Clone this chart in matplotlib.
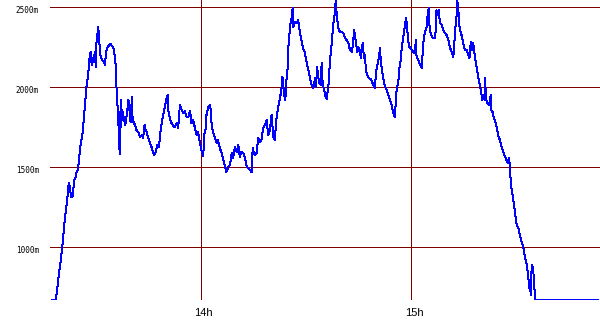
import matplotlib
matplotlib.use('Agg')
import matplotlib.pyplot as plt
import matplotlib.transforms as mtransforms

# Altitude track, time in minutes after 13:00, altitude in metres
minutes = [
    17.4, 18.6, 18.9, 19.2, 19.5, 19.9, 20.3, 20.6, 20.9, 21.1, 21.4, 21.8,
    22.1, 22.3, 22.6, 22.9, 23.3, 23.5, 23.8, 24.3, 24.5, 24.9, 25.2, 25.7,
    26.2, 26.7, 27.1, 27.3, 27.8, 28.1, 28.5, 28.8, 29.1, 29.4, 29.7, 30.0,
    30.2, 30.5, 30.7, 30.9, 31.3, 31.8, 32.3, 32.6, 32.9, 33.2, 33.6, 34.2,
    34.8, 35.2, 35.7, 35.9, 36.3, 36.6, 36.8, 37.1, 37.2, 37.5, 37.8, 38.1,
    38.4, 38.9, 39.3, 39.6, 39.9, 40.3, 40.5, 40.9, 41.2, 41.6, 42.1, 42.6,
    43.1, 43.5, 43.9, 44.2, 44.5, 44.9, 45.4, 45.9, 46.6, 47.1, 47.5, 48.0,
    48.6, 49.1, 49.7, 50.2, 50.5, 50.7, 51.1, 51.6, 52.1, 52.6, 53.1, 53.5,
    54.0, 54.5, 54.9, 55.4, 55.9, 56.4, 56.9, 57.3, 57.8, 58.3, 58.8, 59.2,
    59.7, 60.2, 60.7, 60.9, 61.4, 61.6, 62.1, 62.6, 62.9, 63.1, 63.5, 64.0,
    64.5, 64.9, 65.4, 65.9, 66.4, 66.9, 67.3, 67.8, 68.3, 68.8, 69.2, 69.7,
    70.2, 70.7, 71.1, 71.6, 72.1, 72.6, 73.1, 73.5, 74.0, 74.5, 74.8, 75.1,
    75.4, 75.9, 76.4, 76.9, 77.3, 77.8, 78.3, 78.8, 79.2, 79.7, 80.2, 80.7,
    81.1, 81.6, 82.1, 82.6, 83.1, 83.3, 83.7, 84.1, 84.5, 84.8, 84.9, 85.2,
    85.6, 85.9, 86.2, 86.4, 86.7, 87.1, 87.5, 87.8, 88.3, 88.8, 89.2, 89.7,
    90.2, 90.7, 91.1, 91.6, 92.1, 92.6, 92.9, 93.2, 93.7, 94.2, 94.5, 94.8,
    95.1, 95.5, 95.9, 96.4, 96.9, 97.1, 97.4, 97.8, 98.3, 98.5, 98.8, 99.2,
    99.7, 100.2, 100.7, 101.1, 101.6, 102.1, 102.6, 103.1, 103.3, 103.8, 104.3, 104.7,
    104.9, 105.4, 105.7, 106.2, 106.6, 106.9, 107.1, 107.5, 108.0, 108.5, 108.9, 109.4,
    109.7, 110.0, 110.4, 110.7, 110.9, 111.1, 111.4, 111.7, 112.1, 112.6, 113.1, 113.5,
    114.0, 114.5, 114.9, 115.4, 115.7, 115.9, 116.4, 116.7, 117.1, 117.3, 117.6, 118.0,
    118.3, 118.6, 118.9, 119.2, 119.5, 119.9, 120.2, 120.7, 121.1, 121.4, 121.6, 122.1,
    122.6, 123.1, 123.3, 123.5, 124.0, 124.5, 124.8, 125.1, 125.2, 125.6, 126.0, 126.4,
    126.9, 127.1, 127.3, 127.6, 127.9, 128.3, 128.8, 129.2, 129.7, 130.2, 130.7, 131.1,
    131.6, 132.1, 132.4, 132.7, 133.1, 133.2, 133.5, 133.8, 134.2, 134.6, 134.9, 135.4,
    135.9, 136.4, 136.7, 137.1, 137.3, 137.8, 138.3, 138.8, 139.2, 139.7, 140.1, 140.4,
    140.7, 141.1, 141.2, 141.4, 141.8, 142.3, 142.6, 142.8, 142.9, 143.3, 143.7, 144.1,
    144.5, 144.9, 145.4, 145.9, 146.4, 146.9, 147.3, 147.6, 148.0, 148.3, 148.5, 148.8,
    149.2, 149.7, 150.2, 150.7, 151.1, 151.6, 152.1, 152.6, 153.1, 153.5, 153.8, 154.0,
    154.2, 154.5, 154.8, 154.9, 155.2, 155.5, 173.3,
]
altitude = [
    669, 669, 731, 781, 844, 906, 981, 1044, 1119, 1169, 1219, 1294,
    1369, 1400, 1369, 1313, 1313, 1344, 1419, 1438, 1469, 1481, 1550, 1650,
    1713, 1838, 1950, 2000, 2075, 2169, 2219, 2138, 2181, 2156, 2219, 2125,
    2294, 2344, 2375, 2300, 2200, 2169, 2156, 2138, 2213, 2244, 2256, 2269,
    2250, 2231, 2125, 1994, 1838, 1700, 1581, 1919, 1750, 1856, 1825, 1794,
    1763, 1838, 1919, 1856, 1781, 1938, 1794, 1775, 1763, 1731, 1719, 1688,
    1700, 1681, 1763, 1731, 1719, 1688, 1656, 1625, 1575, 1594, 1638, 1625,
    1750, 1813, 1875, 1931, 1950, 1856, 1806, 1775, 1756, 1750, 1775, 1744,
    1888, 1856, 1838, 1850, 1813, 1813, 1850, 1775, 1794, 1744, 1700, 1719,
    1656, 1600, 1570, 1700, 1744, 1825, 1875, 1888, 1838, 1750, 1719, 1681,
    1650, 1669, 1619, 1588, 1544, 1500, 1469, 1500, 1513, 1588, 1556, 1625,
    1594, 1638, 1563, 1594, 1588, 1556, 1500, 1494, 1481, 1469, 1619, 1588,
    1575, 1588, 1681, 1656, 1669, 1744, 1763, 1794, 1700, 1731, 1825, 1688,
    1669, 1806, 1875, 1931, 2000, 2063, 1963, 1919, 2063, 2125, 2219, 2313,
    2400, 2431, 2494, 2375, 2400, 2406, 2400, 2419, 2338, 2281, 2244, 2213,
    2156, 2106, 2063, 2013, 1994, 2056, 2000, 2125, 2031, 2013, 2150, 2013,
    1994, 1950, 1925, 2000, 2169, 2219, 2281, 2388, 2469, 2544, 2450, 2375,
    2344, 2344, 2338, 2313, 2294, 2275, 2231, 2219, 2244, 2356, 2275, 2219,
    2250, 2231, 2181, 2275, 2181, 2200, 2106, 2075, 2056, 2050, 2031, 2006,
    1994, 2088, 2138, 2169, 2181, 2244, 2169, 2106, 2056, 2000, 1981, 1950,
    1919, 1888, 1838, 1813, 1919, 1981, 2031, 2119, 2169, 2231, 2281, 2338,
    2388, 2431, 2375, 2294, 2250, 2244, 2231, 2219, 2213, 2294, 2188, 2169,
    2138, 2119, 2200, 2275, 2344, 2375, 2463, 2494, 2400, 2338, 2313, 2306,
    2306, 2369, 2481, 2450, 2481, 2400, 2388, 2356, 2338, 2325, 2294, 2250,
    2219, 2188, 2275, 2375, 2463, 2544, 2494, 2388, 2344, 2313, 2275, 2231,
    2231, 2200, 2181, 2281, 2231, 2275, 2181, 2119, 2063, 2013, 1963, 1919,
    1950, 1919, 2056, 1931, 1900, 1888, 1919, 1950, 1856, 1844, 1806, 1781,
    1750, 1700, 1669, 1625, 1594, 1563, 1544, 1525, 1556, 1500, 1400, 1356,
    1300, 1219, 1138, 1119, 1075, 1031, 1000, 931, 888, 813, 744, 781,
    700, 888, 875, 869, 763, 669, 669,
]

alt_ticks = [1000, 1500, 2000, 2500]
alt_labels = ['1000m', '1500m', '2000m', '2500m']
time_ticks = [60, 120]
time_labels = ['14h', '15h']

grid_col = '#800000'

fig = plt.figure(figsize=(6, 3.3), dpi=100)
ax = fig.add_axes([50 / 600, 30 / 330, 550 / 600, 300 / 330])
ax.set_xlim(16.9, 174.0)
ax.set_ylim(669, 2544)
for s in ax.spines.values():
    s.set_visible(False)
ax.set_xticks([])
ax.set_yticks([])

# grid
for v in alt_ticks:
    ax.axhline(v, color=grid_col, lw=0.72, zorder=1, antialiased=False)
for t in time_ticks:
    ax.axvline(t, color=grid_col, lw=0.72, zorder=1, antialiased=False)

ax.plot(minutes, altitude, color='#0000ff', lw=0.72, zorder=2, antialiased=False)

# tick labels
ylab_tr = mtransforms.blended_transform_factory(ax.transAxes, ax.transData)
off = mtransforms.ScaledTranslation(-11 / 100, -3.5 / 100, fig.dpi_scale_trans)
for v, lab in zip(alt_ticks, alt_labels):
    ax.text(0, v, lab, transform=ylab_tr + off, ha='right', va='center',
            fontsize=5.5, family='DejaVu Sans Mono', color='black')

xlab_tr = mtransforms.blended_transform_factory(ax.transData, ax.transAxes)
off2 = mtransforms.ScaledTranslation(3 / 100, -13 / 100, fig.dpi_scale_trans)
for t, lab in zip(time_ticks, time_labels):
    ax.text(t, 0, lab, transform=xlab_tr + off2, ha='center', va='center',
            fontsize=8, family='Liberation Sans', color='black')

fig.savefig('out.png', dpi=100)
